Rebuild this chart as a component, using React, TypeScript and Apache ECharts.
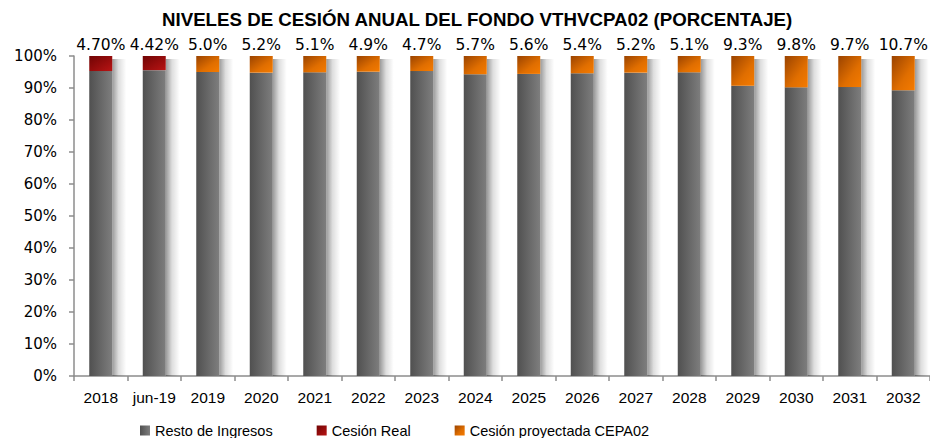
import React, { useEffect, useRef } from "react";
import * as echarts from "echarts";

const categories = ["2018", "jun-19", "2019", "2020", "2021", "2022", "2023", "2024", "2025", "2026", "2027", "2028", "2029", "2030", "2031", "2032"];
const cesionValues = [4.70, 4.42, 5.0, 5.2, 5.1, 4.9, 4.7, 5.7, 5.6, 5.4, 5.2, 5.1, 9.3, 9.8, 9.7, 10.7];
const cesionLabels = ["4.70%", "4.42%", "5.0%", "5.2%", "5.1%", "4.9%", "4.7%", "5.7%", "5.6%", "5.4%", "5.2%", "5.1%", "9.3%", "9.8%", "9.7%", "10.7%"];
const isReal = [true, true, false, false, false, false, false, false, false, false, false, false, false, false, false, false];
const yTicks = { min: 0, max: 100, interval: 10 };

const restoValues = cesionValues.map((v) => +(100 - v).toFixed(2));
const realValues = cesionValues.map((v, i) => (isReal[i] ? v : "-"));
const proyValues = cesionValues.map((v, i) => (isReal[i] ? "-" : v));
const totalValues = categories.map((_, i) => [i, restoValues[i] + cesionValues[i]]);

const BAR_W = 23;

export default function App() {
  const ref = useRef<HTMLDivElement>(null);
  useEffect(() => {
    if (!ref.current) return;
    const chart = echarts.init(ref.current, undefined, { renderer: "svg" });
    const labelFn = (p: any) => cesionLabels[p.dataIndex];
    const dataLabel = {
      show: true,
      position: "top" as const,
      distance: 3,
      formatter: labelFn,
      color: "#000",
      fontFamily: "DejaVu Sans",
      fontSize: 15.5,
    };
    chart.setOption({
      animation: false,
      title: {
        text: "NIVELES DE CESIÓN ANUAL DEL FONDO VTHVCPA02 (PORCENTAJE)",
        left: 162,
        top: 10,
        padding: 0,
        textStyle: { fontFamily: "Liberation Sans", fontWeight: "bold", fontSize: 18.7, color: "#000" },
      },
      legend: {
        left: 135,
        top: 418,
        itemWidth: 10,
        itemHeight: 10,
        itemGap: 44,
        icon: "rect",
        textStyle: { fontFamily: "Liberation Sans", fontSize: 14.5, color: "#000" },
        data: ["Resto de Ingresos", "Cesión Real", "Cesión proyectada CEPA02"],
      },
      grid: { left: 74, right: 0, top: 56, bottom: 62, containLabel: false },
      xAxis: {
        type: "category",
        data: categories,
        axisLine: { lineStyle: { color: "#8c8c8c", width: 1.5 } },
        axisTick: { show: true, length: 5, lineStyle: { color: "#8c8c8c", width: 1.5 } },
        axisLabel: { color: "#000", fontFamily: "Liberation Sans", fontSize: 15.5, margin: 13, interval: 0 },
      },
      yAxis: {
        type: "value",
        min: yTicks.min,
        max: yTicks.max,
        interval: yTicks.interval,
        splitLine: { show: false },
        axisLine: { show: true, lineStyle: { color: "#8c8c8c", width: 1.5 } },
        axisTick: { show: true, length: 5, lineStyle: { color: "#8c8c8c", width: 1.5 } },
        axisLabel: { color: "#000", fontFamily: "DejaVu Sans", fontSize: 15, margin: 17, formatter: "{value}%" },
      },
      series: [
        {
          name: "shadow",
          type: "custom",
          silent: true,
          z: 1,
          encode: { x: 0, y: 1 },
          data: totalValues,
          renderItem: (params: any, api: any) => {
            const top = api.coord([api.value(0), api.value(1)]);
            const base = api.coord([api.value(0), 0]);
            const x0 = top[0] + BAR_W / 2;
            return {
              type: "rect",
              shape: { x: x0, y: top[1] + 3, width: 14, height: base[1] - top[1] - 3 },
              style: {
                fill: new echarts.graphic.LinearGradient(0, 0, 1, 0, [
                  { offset: 0, color: "rgba(0,0,0,0.4)" },
                  { offset: 0.45, color: "rgba(0,0,0,0.13)" },
                  { offset: 1, color: "rgba(0,0,0,0)" },
                ]),
              },
            };
          },
        },
        {
          name: "Resto de Ingresos",
          type: "bar",
          stack: "total",
          barWidth: BAR_W,
          z: 2,
          data: restoValues,
          itemStyle: {
            color: new echarts.graphic.LinearGradient(0, 0, 1, 0, [
              { offset: 0, color: "#505050" },
              { offset: 1, color: "#7e7e7e" },
            ]),
          },
        },
        {
          name: "Cesión Real",
          type: "bar",
          stack: "total",
          barWidth: BAR_W,
          z: 2,
          data: realValues,
          label: dataLabel,
          itemStyle: {
            color: new echarts.graphic.LinearGradient(0, 0, 1, 1, [
              { offset: 0, color: "#700404" },
              { offset: 1, color: "#b81414" },
            ]),
          },
        },
        {
          name: "Cesión proyectada CEPA02",
          type: "bar",
          stack: "total",
          barWidth: BAR_W,
          z: 2,
          data: proyValues,
          label: dataLabel,
          itemStyle: {
            color: new echarts.graphic.LinearGradient(0, 0, 1, 1, [
              { offset: 0, color: "#9a4300" },
              { offset: 0.6, color: "#e06e00" },
              { offset: 1, color: "#f57b00" },
            ]),
          },
        },
      ],
    });
    return () => chart.dispose();
  }, []);
  return <div ref={ref} style={{ position: "absolute", left: 0, top: 0, width: 930, height: 438 }} />;
}
